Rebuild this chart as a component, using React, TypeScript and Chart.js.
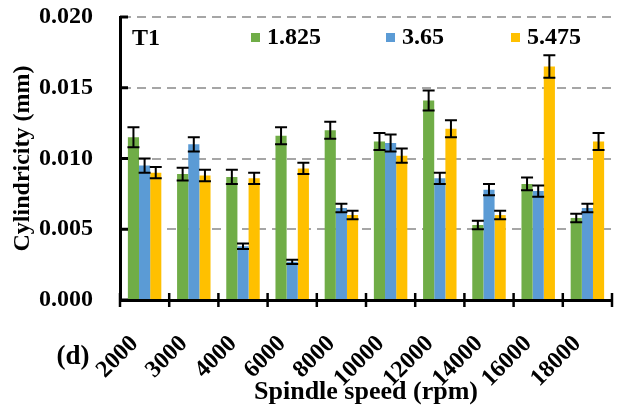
import { useEffect, useRef } from "react";
import { Chart, registerables } from "chart.js";

Chart.register(...registerables);

const categories = ["2000", "3000", "4000", "6000", "8000", "10000", "12000", "14000", "16000", "18000"];
const seriesLabels = ["1.825", "3.65", "5.475"];
const seriesColors = ["#70AD47", "#5B9BD5", "#FFC000"];
const values1825 = [0.0115, 0.0089, 0.0087, 0.0116, 0.012, 0.0112, 0.0141, 0.0053, 0.0082, 0.0058];
const errors1825 = [0.0007, 0.00045, 0.0005, 0.0006, 0.0006, 0.0006, 0.0007, 0.0003, 0.00045, 0.0003];
const values365 = [0.0095, 0.011, 0.0038, 0.0027, 0.0065, 0.0111, 0.0086, 0.0078, 0.0077, 0.0065];
const errors365 = [0.0005, 0.0005, 0.0002, 0.00015, 0.0003, 0.0006, 0.0004, 0.0004, 0.0004, 0.0003];
const values5475 = [0.009, 0.0088, 0.0086, 0.0093, 0.006, 0.0102, 0.0121, 0.006, 0.0165, 0.0112];
const errors5475 = [0.0004, 0.0004, 0.0004, 0.0004, 0.0003, 0.0005, 0.0006, 0.0003, 0.0008, 0.0006];
const yTicks = [0, 0.005, 0.01, 0.015, 0.02];
const panelTag = "T1";
const figureTag = "(d)";

const FONT = "'Liberation Serif', 'Times New Roman', serif";

const overlayPlugin = {
  id: "overlay",
  afterDatasetsDraw(chart: any) {
    const ctx = chart.ctx;
    const yScale = chart.scales.y;
    const errs = [errors1825, errors365, errors5475];
    ctx.save();
    ctx.strokeStyle = "#000";
    ctx.lineWidth = 2;
    chart.data.datasets.forEach((ds: any, i: number) => {
      const meta = chart.getDatasetMeta(i);
      meta.data.forEach((el: any, j: number) => {
        const v = ds.data[j];
        const e = errs[i][j];
        const yT = yScale.getPixelForValue(v + e);
        const yB = yScale.getPixelForValue(v - e);
        const x = el.x;
        const cap = 6;
        ctx.beginPath();
        ctx.moveTo(x, yT);
        ctx.lineTo(x, yB);
        ctx.moveTo(x - cap, yT);
        ctx.lineTo(x + cap, yT);
        ctx.moveTo(x - cap, yB);
        ctx.lineTo(x + cap, yB);
        ctx.stroke();
      });
    });
    ctx.restore();
  },
  afterDraw(chart: any) {
    const ctx = chart.ctx;
    const area = chart.chartArea;
    const xScale = chart.scales.x;
    const yScale = chart.scales.y;
    ctx.save();
    ctx.strokeStyle = "#000";
    ctx.lineWidth = 3;
    yTicks.forEach((t) => {
      const y = yScale.getPixelForValue(t);
      ctx.beginPath();
      ctx.moveTo(area.left, y);
      ctx.lineTo(area.left + 8, y);
      ctx.stroke();
    });
    const n = categories.length;
    const w = xScale.getPixelForValue(1) - xScale.getPixelForValue(0);
    ctx.lineWidth = 2.5;
    for (let i = 0; i <= n; i++) {
      const x = xScale.getPixelForValue(0) - w / 2 + i * w;
      ctx.beginPath();
      ctx.moveTo(x, area.bottom - 7);
      ctx.lineTo(x, area.bottom + 7);
      ctx.stroke();
    }
    const legendX = [251, 386, 511];
    ctx.textBaseline = "middle";
    ctx.textAlign = "left";
    ctx.font = `bold 24px ${FONT}`;
    chart.data.datasets.forEach((ds: any, i: number) => {
      ctx.fillStyle = ds.backgroundColor;
      ctx.fillRect(legendX[i], 33, 9, 9);
      ctx.fillStyle = "#000";
      ctx.fillText(ds.label, legendX[i] + 16, 38);
    });
    ctx.fillText(panelTag, 132, 39);
    ctx.font = `bold 27px ${FONT}`;
    ctx.textAlign = "center";
    ctx.fillText(figureTag, 73, 357);
    ctx.restore();
  },
};

export default function App() {
  const ref = useRef<HTMLCanvasElement>(null);
  useEffect(() => {
    if (!ref.current) return;
    const chart = new Chart(ref.current, {
      type: "bar",
      data: {
        labels: categories,
        datasets: [
          { label: seriesLabels[0], data: values1825, backgroundColor: seriesColors[0] },
          { label: seriesLabels[1], data: values365, backgroundColor: seriesColors[1] },
          { label: seriesLabels[2], data: values5475, backgroundColor: seriesColors[2] },
        ],
      },
      options: {
        responsive: false,
        animation: false,
        datasets: { bar: { categoryPercentage: 0.68, barPercentage: 1.0 } },
        layout: { padding: { top: 17, right: 20, left: 0, bottom: 0 } },
        plugins: { legend: { display: false }, tooltip: { enabled: false } },
        scales: {
          x: {
            afterFit: (s: any) => {
              s.height = 112;
              s.paddingLeft = 0;
              s.paddingRight = 0;
            },
            ticks: {
              color: "#000",
              font: { family: FONT, size: 24, weight: "bold" },
              maxRotation: 45,
              minRotation: 45,
              padding: 30,
              labelOffset: -10,
            },
            grid: { display: false, drawTicks: false },
            border: { display: true, color: "#000", width: 3 },
            title: {
              display: true,
              text: "Spindle speed (rpm)",
              color: "#000",
              font: { family: FONT, size: 26, weight: "bold" },
              padding: { top: 0, bottom: 4 },
            },
          },
          y: {
            min: 0,
            max: 0.02,
            afterFit: (s: any) => {
              s.width = 120;
              s.paddingTop = 0;
              s.paddingBottom = 0;
            },
            afterBuildTicks: (s: any) => {
              s.ticks = yTicks.map((v) => ({ value: v }));
            },
            ticks: {
              color: "#000",
              font: { family: FONT, size: 24, weight: "bold" },
              padding: 27,
              callback: (v: any) => Number(v).toFixed(3),
            },
            grid: { color: "#A6A6A6", lineWidth: 2, drawTicks: false },
            border: { display: true, color: "#000", width: 3, dash: [9, 6] },
            title: {
              display: true,
              text: "Cylindricity (mm)",
              color: "#000",
              font: { family: FONT, size: 24, weight: "bold" },
              padding: { top: 8, bottom: 0 },
            },
          },
        },
      },
      plugins: [overlayPlugin],
    });
    return () => chart.destroy();
  }, []);
  return (
    <div style={{ position: "absolute", left: 0, top: 0, width: 632, height: 412, background: "#fff" }}>
      <canvas ref={ref} width={632} height={412} />
    </div>
  );
}
